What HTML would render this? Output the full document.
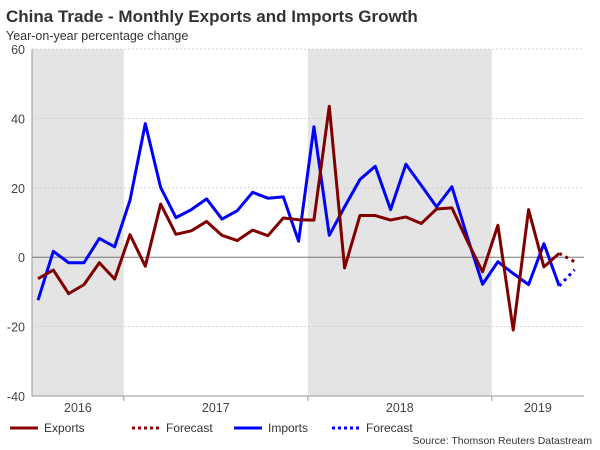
<!DOCTYPE html>
<html><head><meta charset="utf-8"><style>
body{margin:0;background:#fff;font-family:"Liberation Sans",sans-serif}
svg{display:block}
</style></head><body>
<svg width="600" height="450">
<text x="6" y="22" font-size="17" font-weight="bold" fill="#333">China Trade - Monthly Exports and Imports Growth</text>
<text x="6" y="40" font-size="12.5" fill="#333">Year-on-year percentage change</text>
<g id="plot"></g>
<g>
<line x1="10" y1="428" x2="38" y2="428" stroke="#8b0000" stroke-width="3"/>
<text x="44" y="432" font-size="12" fill="#333">Exports</text>
<line x1="132" y1="428" x2="160" y2="428" stroke="#8b0000" stroke-width="3" stroke-dasharray="3,3"/>
<text x="166" y="432" font-size="12" fill="#333">Forecast</text>
<line x1="234" y1="428" x2="262" y2="428" stroke="#0000ff" stroke-width="3"/>
<text x="268" y="432" font-size="12" fill="#333">Imports</text>
<line x1="332" y1="428" x2="360" y2="428" stroke="#0000ff" stroke-width="3" stroke-dasharray="3,3"/>
<text x="366" y="432" font-size="12" fill="#333">Forecast</text>
</g>
<text x="592" y="444" font-size="10.5" fill="#333" text-anchor="end">Source: Thomson Reuters Datastream</text>
</svg>
<script>
const exportsData=[-6.2,-3.7,-10.5,-7.9,-1.6,-6.3,6.5,-2.6,15.3,6.6,7.6,10.3,6.3,4.8,7.8,6.2,11.3,10.8,10.7,43.5,-3.1,12.0,12.0,10.7,11.6,9.7,13.9,14.2,4.7,-4.2,9.2,-21,13.7,-2.8,1.1];
const exportsForecast=[1.1,-1.3];
const importsData=[-12.4,1.7,-1.6,-1.6,5.4,3.0,16.4,38.5,20.1,11.4,13.7,16.8,11.0,13.4,18.7,17.0,17.4,4.6,37.6,6.3,14.5,22.4,26.2,13.7,26.8,20.7,14.5,20.3,5.9,-7.8,-1.3,-4.7,-7.9,3.9,-8.3];
const importsForecast=[-8.3,-3.6];
const yTicks=[60,40,20,0,-20,-40];
const years=["2016","2017","2018","2019"];
const yearStartIdx=[-0.4,5.6,17.6,29.6];
const yearEndIdx=[5.6,17.6,29.6,36.4];
const shadedYears=[0,2];
const NS="http://www.w3.org/2000/svg";
const L=32,R=584,T=49,B=396;
const y=v=>T+(60-v)/100*(B-T);
const x=i=>38+i*15.33;
const g=document.getElementById('plot');
function el(t,a){const e=document.createElementNS(NS,t);for(const k in a)e.setAttribute(k,a[k]);g.appendChild(e);return e;}
shadedYears.forEach(k=>{
 const r=el('rect',{x:Math.max(L,x(yearStartIdx[k])),y:T,width:x(yearEndIdx[k])-Math.max(L,x(yearStartIdx[k])),height:B-T,fill:'#e4e4e4'});
 
 
});
yTicks.forEach(t=>{
 if(t!==0&&t!==-40){const l=el('line',{x1:L,x2:R,y1:y(t),y2:y(t),stroke:'#ccc','stroke-dasharray':'2,2','stroke-width':0.8});
 }
 const tx=el('text',{x:25,y:y(t)+5,'font-size':12.5,fill:'#444','text-anchor':'end'});
 tx.textContent=t;
 
 
});
const ax=el('line',{x1:L,x2:L,y1:T,y2:B,stroke:'#999'});
const bx=el('line',{x1:L,x2:R,y1:B,y2:B,stroke:'#999'});
const zl=el('line',{x1:L,x2:R,y1:y(0),y2:y(0),stroke:'#777'});
years.forEach((yr,k)=>{
 const s=Math.max(L,x(yearStartIdx[k])),e=Math.min(R,x(yearEndIdx[k]));
 if(k>0){const tk=el('line',{x1:s,x2:s,y1:B,y2:B+5,stroke:'#999'});}
 const tx=el('text',{x:(s+e)/2,y:B+16,'font-size':12.5,fill:'#444','text-anchor':'middle'});
 tx.textContent=yr;
 
 
});
function line(d,off,col,dash,name){
 const p=el('polyline',{points:d.map((v,i)=>x(i+off)+','+y(v)).join(' '),fill:'none',stroke:col,'stroke-width':3,'stroke-linejoin':'round'});
 if(dash)p.setAttribute('stroke-dasharray','3,4');
 
 
}
line(importsData,0,'#0000ff',false,'imports-line');
line(importsForecast,importsData.length-1,'#0000ff',true,'imports-forecast-line');
line(exportsData,0,'#800000',false,'exports-line');
line(exportsForecast,exportsData.length-1,'#800000',true,'exports-forecast-line');
</script>
</body></html>
